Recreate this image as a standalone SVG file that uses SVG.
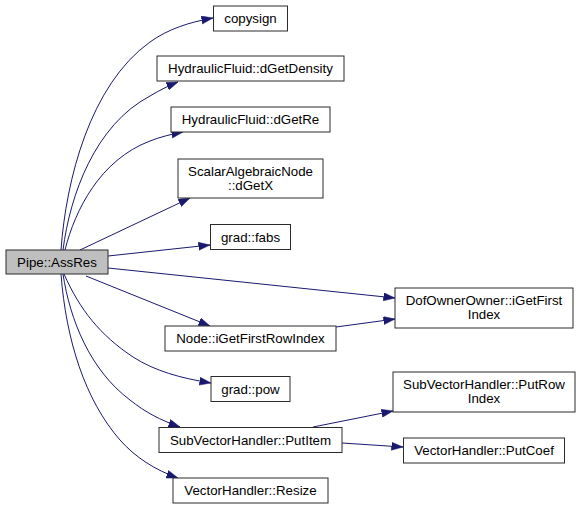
<svg xmlns="http://www.w3.org/2000/svg" width="581" height="509" viewBox="0 0 581 509">
<style>
.n rect{fill:#fff;stroke:#2b2b2b;stroke-width:1}
.n text{font-family:"Liberation Sans",Arial,sans-serif;font-size:13.3px;text-anchor:middle;fill:#000}
.e path{fill:none;stroke:#191970;stroke-width:1;marker-end:url(#ah)}
</style>
<defs>
<marker id="ah" markerUnits="userSpaceOnUse" markerWidth="13" markerHeight="10" refX="11.5" refY="4" orient="auto">
<path d="M0,0 L11.5,4 L0,8 z" fill="#191970" stroke="#191970" stroke-width="0.5"/>
</marker>
</defs>
<rect width="581" height="509" fill="#fff"/>
<g id="connectors" class="e">
<path d="M61,250 C66,180 90,85 150,42 C168,29 190,22 213,18"/>
<path d="M63,250 C70,195 95,125 150,96 C160,90 168,86 178,82"/>
<path d="M65,250 C75,210 100,160 150,141 C160,137 172,134 183,132"/>
<path d="M80,250 L190,198"/>
<path d="M108,256 L210,245"/>
<path d="M108,268 L395,298"/>
<path d="M86,276 L210,326"/>
<path d="M336,327 L395,319"/>
<path d="M64,274 C80,310 100,335 133,357 C155,371 180,378 211,383"/>
<path d="M63,274 C70,320 90,370 130,400 C145,412 160,420 180,427"/>
<path d="M61,274 C66,340 85,400 120,440 C135,457 155,470 178,478"/>
<path d="M313,427 L393,411"/>
<path d="M342,443 L403,447"/>
</g>
<g id="pipe_assres" class="n"><rect x="6" y="250" width="102" height="24" style="fill:#bfbfbf"/><text x="57" y="266.5">Pipe::AssRes</text></g>
<g id="copysign" class="n"><rect x="213.5" y="6" width="74" height="25"/><text x="250.5" y="23">copysign</text></g>
<g id="dgetdensity" class="n"><rect x="157" y="56" width="187" height="25"/><text x="250.5" y="73">HydraulicFluid::dGetDensity</text></g>
<g id="dgetre" class="n"><rect x="171" y="107" width="159" height="25"/><text x="250.5" y="124">HydraulicFluid::dGetRe</text></g>
<g id="dgetx" class="n"><rect x="178" y="159" width="145" height="39"/><text x="250.5" y="175.5">ScalarAlgebraicNode</text><text x="250.5" y="190">::dGetX</text></g>
<g id="fabs" class="n"><rect x="210.5" y="224.5" width="80" height="25"/><text x="250.5" y="241.5">grad::fabs</text></g>
<g id="igetfirstrowindex" class="n"><rect x="165" y="326" width="171" height="25"/><text x="250.5" y="343">Node::iGetFirstRowIndex</text></g>
<g id="pow" class="n"><rect x="211" y="376.5" width="79" height="25"/><text x="250.5" y="393.5">grad::pow</text></g>
<g id="putitem" class="n"><rect x="159" y="427.5" width="183" height="25"/><text x="250.5" y="444.5">SubVectorHandler::PutItem</text></g>
<g id="resize" class="n"><rect x="173" y="478" width="155" height="25"/><text x="250.5" y="495">VectorHandler::Resize</text></g>
<g id="igetfirstindex" class="n"><rect x="395" y="288" width="178" height="40"/><text x="484" y="304.5">DofOwnerOwner::iGetFirst</text><text x="484" y="319">Index</text></g>
<g id="putrowindex" class="n"><rect x="393" y="372" width="182" height="40"/><text x="484" y="388.5">SubVectorHandler::PutRow</text><text x="484" y="403">Index</text></g>
<g id="putcoef" class="n"><rect x="403.5" y="438" width="161" height="25"/><text x="484" y="455">VectorHandler::PutCoef</text></g>
</svg>
